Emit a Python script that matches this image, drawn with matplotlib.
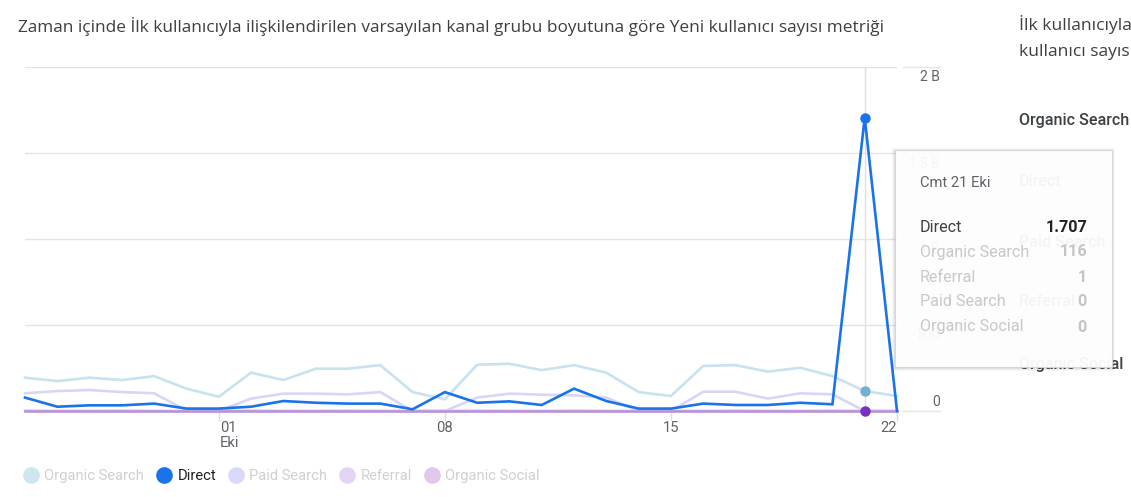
import numpy as np
import pandas as pd
import matplotlib
matplotlib.use('Agg')
import matplotlib.pyplot as plt
from matplotlib.lines import Line2D
from matplotlib.patches import Rectangle
from matplotlib.transforms import blended_transform_factory, offset_copy

plt.rcParams['font.family'] = ['Roboto', 'DejaVu Sans']

# Daily values, 25 Eyl - 22 Eki 2023
dates = pd.date_range('2023-09-25', '2023-10-22', freq='D')
organic_search = [194, 174, 194, 180, 203, 130, 83, 223, 180, 246, 246, 267, 110, 68,
                  269, 275, 238, 267, 223, 110, 87, 262, 267, 229, 252, 203, 116, 87]
direct = [78, 25, 33, 33, 43, 14, 14, 25, 58, 48, 43, 43, 10, 110,
          48, 56, 35, 130, 58, 14, 14, 43, 35, 35, 48, 39, 1707, 0]
paid_search = [103, 116, 122, 110, 103, 3, 0, 72, 101, 101, 97, 110, 0, 0,
               78, 101, 95, 91, 78, 0, 0, 112, 112, 72, 103, 97, 0, 0]
referral = [2, 1, 1, 2, 1, 0, 1, 2, 1, 1, 2, 1, 0, 1,
            2, 1, 1, 2, 1, 0, 1, 1, 2, 1, 1, 2, 1, 0]
organic_social = [0] * 28

series_names = ['Organic Search', 'Direct', 'Paid Search', 'Referral', 'Organic Social']
series_values = [organic_search, direct, paid_search, referral, organic_social]
line_colors = ['#c8e2ef', '#1a73e8', '#d8d6f8', '#dccbf3', '#b993d7']
legend_colors = ['#cfe5f0', '#1a73e8', '#d9d9f9', '#e3d3f5', '#e2c8ea']
marker_colors = ['#72b0d2', '#1a73e8', '#9a9af0', '#8f5fd6', '#7b30c0']

yticks = [0, 500, 1000, 1500, 2000]
ytick_labels = ['0', '500', '1 B', '1,5 B', '2 B']
xtick_dates = ['2023-10-01', '2023-10-08', '2023-10-15', '2023-10-22']
xtick_labels = ['01\nEki', '08', '15', '22']
xtick_align = ['left', 'center', 'center', 'right']
hover_idx = 26
hover_label = 'Cmt 21 Eki'

title_font = ['Open Sans', 'DejaVu Sans']

W, H = 1131, 497
fig = plt.figure(figsize=(W / 100, H / 100), dpi=100)
fig.patch.set_facecolor('white')


def fx(x):
    return x / W


def fy(y):
    return 1 - y / H


ax = fig.add_axes([fx(25), fy(411), fx(872), (411 - 67.3) / H])
ax.set_xlim(dates[0], dates[-1])
ax.set_ylim(0, 2000)
for s in ax.spines.values():
    s.set_visible(False)
ax.set_xticks([])
ax.set_yticks([])

bt = blended_transform_factory(ax.transAxes, ax.transData)
for v in yticks:
    ax.axhline(v, color='#e5e5e5', lw=1, zorder=0)
    ax.plot([1.007, 1.049], [v, v], color='#e5e5e5', lw=1, transform=bt, clip_on=False)

# y labels on the right
for v, lab in zip(yticks, ytick_labels):
    dy = 9 if v == 0 else -10
    tr = offset_copy(bt, fig=fig, x=0, y=dy, units='dots')
    ax.text(1.049, v, lab, transform=tr, ha='right', va='center',
            fontsize=10, color='#5f6368', clip_on=False)

# x ticks
xb = blended_transform_factory(ax.transData, ax.transAxes)
for d, lab, al in zip(pd.to_datetime(xtick_dates), xtick_labels, xtick_align):
    ax.plot([d, d], [0, -0.025], color='#dadce0', lw=1, transform=xb, clip_on=False)
    tr = offset_copy(xb, fig=fig, x=1 if al == 'left' else 0, y=0, units='dots')
    ax.text(d, -0.028, lab, transform=tr, ha=al, va='top', fontsize=10.6,
            color='#5f6368', linespacing=1.15, clip_on=False)

# hover line
ax.axvline(dates[hover_idx], color='#e0e0e0', lw=1, zorder=1)

# series: faded ones first, Direct on top
order = [0, 2, 3, 4, 1]
for i in order:
    ax.plot(dates, series_values[i], color=line_colors[i], lw=1.9,
            zorder=3 if i == 1 else 2, solid_joinstyle='miter', clip_on=False)
for i in [0, 4, 1]:
    ax.plot(dates[hover_idx], series_values[i][hover_idx], 'o', ms=6.5,
            color=marker_colors[i], zorder=5, clip_on=False)

# legend
handles = [Line2D([], [], marker='o', ls='', ms=11, color=c) for c in legend_colors]
leg = fig.legend(handles, series_names, ncol=5, frameon=False, loc='center left',
                 bbox_to_anchor=(fx(18), fy(476)), handlelength=1.0, handletextpad=0.4,
                 columnspacing=0.85, fontsize=10.6, borderaxespad=0)
for t, n in zip(leg.get_texts(), series_names):
    t.set_color('#202124' if n == 'Direct' else '#d0d0d0')

# title
fig.text(fx(18), fy(27), 'Zaman içinde İlk kullanıcıyla ilişkilendirilen varsayılan kanal grubu '
         'boyutuna göre Yeni kullanıcı sayısı metriği', family=title_font,
         fontsize=12.4, color='#3c4043', ha='left', va='center')

# right-hand table (cut off at the edge)
fig.text(fx(1019), fy(25), 'İlk kullanıcıyla ilişkilendirilen', family=title_font,
         fontsize=12.6, color='#3c4043', ha='left', va='center')
fig.text(fx(1019), fy(52), 'kullanıcı sayısı metriği', family=title_font,
         fontsize=12.6, color='#3c4043', ha='left', va='center')
for n, yy in zip(series_names, [120, 181, 242, 302, 365]):
    fig.text(fx(1019), fy(yy), n, fontsize=11.6, color='#3c4043', ha='left',
             va='center', weight='medium')

# tooltip
x0, y0, x1, y1 = 895, 150, 1112, 367
for k, a in enumerate([0.05, 0.04, 0.03]):
    fig.patches.append(Rectangle((fx(x0 - 1 - k), fy(y1 + 2 + k)), fx(x1 - x0 + 2 + 2 * k),
                                 (y1 - y0 + 2 + 2 * k) / H, transform=fig.transFigure,
                                 facecolor='black', alpha=a, edgecolor='none', zorder=8))
fig.patches.append(Rectangle((fx(x0), fy(y1)), fx(x1 - x0), (y1 - y0) / H,
                             transform=fig.transFigure, facecolor='white', alpha=0.95,
                             edgecolor='#d6d6d6', lw=0.8, zorder=9))
fig.text(fx(920), fy(183), hover_label, fontsize=10.6, color='#5f6368', zorder=10,
         ha='left', va='center')
rows = sorted(zip(series_names, [v[hover_idx] for v in series_values]),
              key=lambda r: -r[1])
for k, (n, v) in enumerate(rows):
    yy = 227 + 25 * k
    c = '#3c4043' if n == 'Direct' else '#c8c8c8'
    cv = '#202124' if n == 'Direct' else '#c4c4c4'
    fig.text(fx(920), fy(yy), n, fontsize=11.6, color=c, zorder=10, ha='left', va='center')
    fig.text(fx(1087), fy(yy), f'{v:,}'.replace(',', '.'), fontsize=11.6, color=cv,
             weight='bold', zorder=10, ha='right', va='center')

fig.savefig('out.png', dpi=100)
